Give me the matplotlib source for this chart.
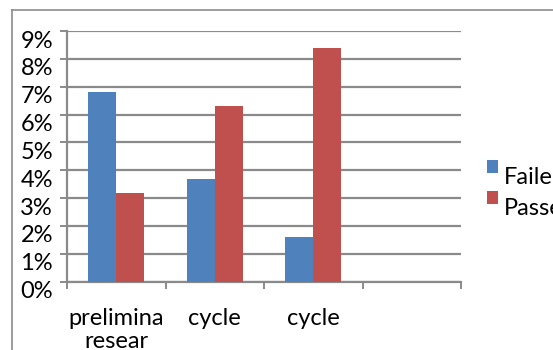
import matplotlib
matplotlib.use("Agg")
import matplotlib.pyplot as plt
import matplotlib.transforms as mtransforms
from matplotlib.lines import Line2D
from matplotlib.patches import Patch
import numpy as np

plt.rcParams['font.family'] = ['Lato', 'DejaVu Sans']

categories = ["prelimina\nresear", "cycle", "cycle", ""]
series_names = ["Faile", "Passe"]
failed = [6.8, 3.7, 1.6]
passed = [3.2, 6.3, 8.4]
y_ticks = [0, 1, 2, 3, 4, 5, 6, 7, 8, 9]
y_tick_labels = ["0%", "1%", "2%", "3%", "4%", "5%", "6%", "7%", "8%", "9%"]

blue = "#4F81BD"
red = "#C0504D"
grid_c = "#8a8a8a"

W, H = 553, 350
fig = plt.figure(figsize=(W / 100, H / 100), dpi=100)
ax = fig.add_axes([67 / W, (H - 281.7) / H, (461 - 67) / W, (281.7 - 31) / H])

bw = 0.285
x = np.arange(len(failed))
ax.bar(x - bw / 2, failed, width=bw, color=blue, zorder=3)
ax.bar(x + bw / 2, passed, width=bw, color=red, zorder=3)

ax.set_xlim(-0.5, len(categories) - 0.5)
ax.set_ylim(0, 9)

ax.set_yticks(y_ticks)
ax.set_yticklabels(y_tick_labels, fontsize=17)
ax.yaxis.grid(True, color=grid_c, linewidth=1.6, zorder=0)
ax.set_axisbelow(True)

ax.set_xticks(np.arange(len(categories)))
ax.set_xticklabels(categories, fontsize=17, linespacing=1.12)
ax.set_xticks(np.arange(len(categories) + 1) - 0.5, minor=True)
ax.tick_params(axis='x', which='major', length=0, pad=19)
ax.tick_params(axis='x', which='minor', length=5, width=1.4, color=grid_c)
ax.tick_params(axis='y', length=5, width=1.4, color=grid_c, pad=5)

for s in ['top', 'right']:
    ax.spines[s].set_visible(False)
for s in ['left', 'bottom']:
    ax.spines[s].set_color(grid_c)
    ax.spines[s].set_linewidth(1.6)

# shift y tick labels down slightly
off = mtransforms.ScaledTranslation(0, -8 / 100, fig.dpi_scale_trans)
for lbl in ax.get_yticklabels():
    lbl.set_transform(lbl.get_transform() + off)

handles = [Patch(facecolor=blue, edgecolor='none'), Patch(facecolor=red, edgecolor='none')]
leg = fig.legend(handles, series_names, loc='upper left',
                 bbox_to_anchor=(487 / W, 1 - 158 / H), frameon=False,
                 fontsize=17, handlelength=0.45, handleheight=0.45,
                 handletextpad=0.25, labelspacing=0.42, borderpad=0, borderaxespad=0)
off2 = mtransforms.ScaledTranslation(0, -9 / 100, fig.dpi_scale_trans)
for t in leg.get_texts():
    t.set_transform(t.get_transform() + off2)

# outer chart frame
fl = 12 / W
ft = 1 - 10 / H
fig.add_artist(Line2D([fl, fl], [-0.05, ft], transform=fig.transFigure, color="#8c8c8c", linewidth=1.2))
fig.add_artist(Line2D([fl, 1.05], [ft, ft], transform=fig.transFigure, color="#8c8c8c", linewidth=1.2))

fig.savefig("out.png", dpi=100)
